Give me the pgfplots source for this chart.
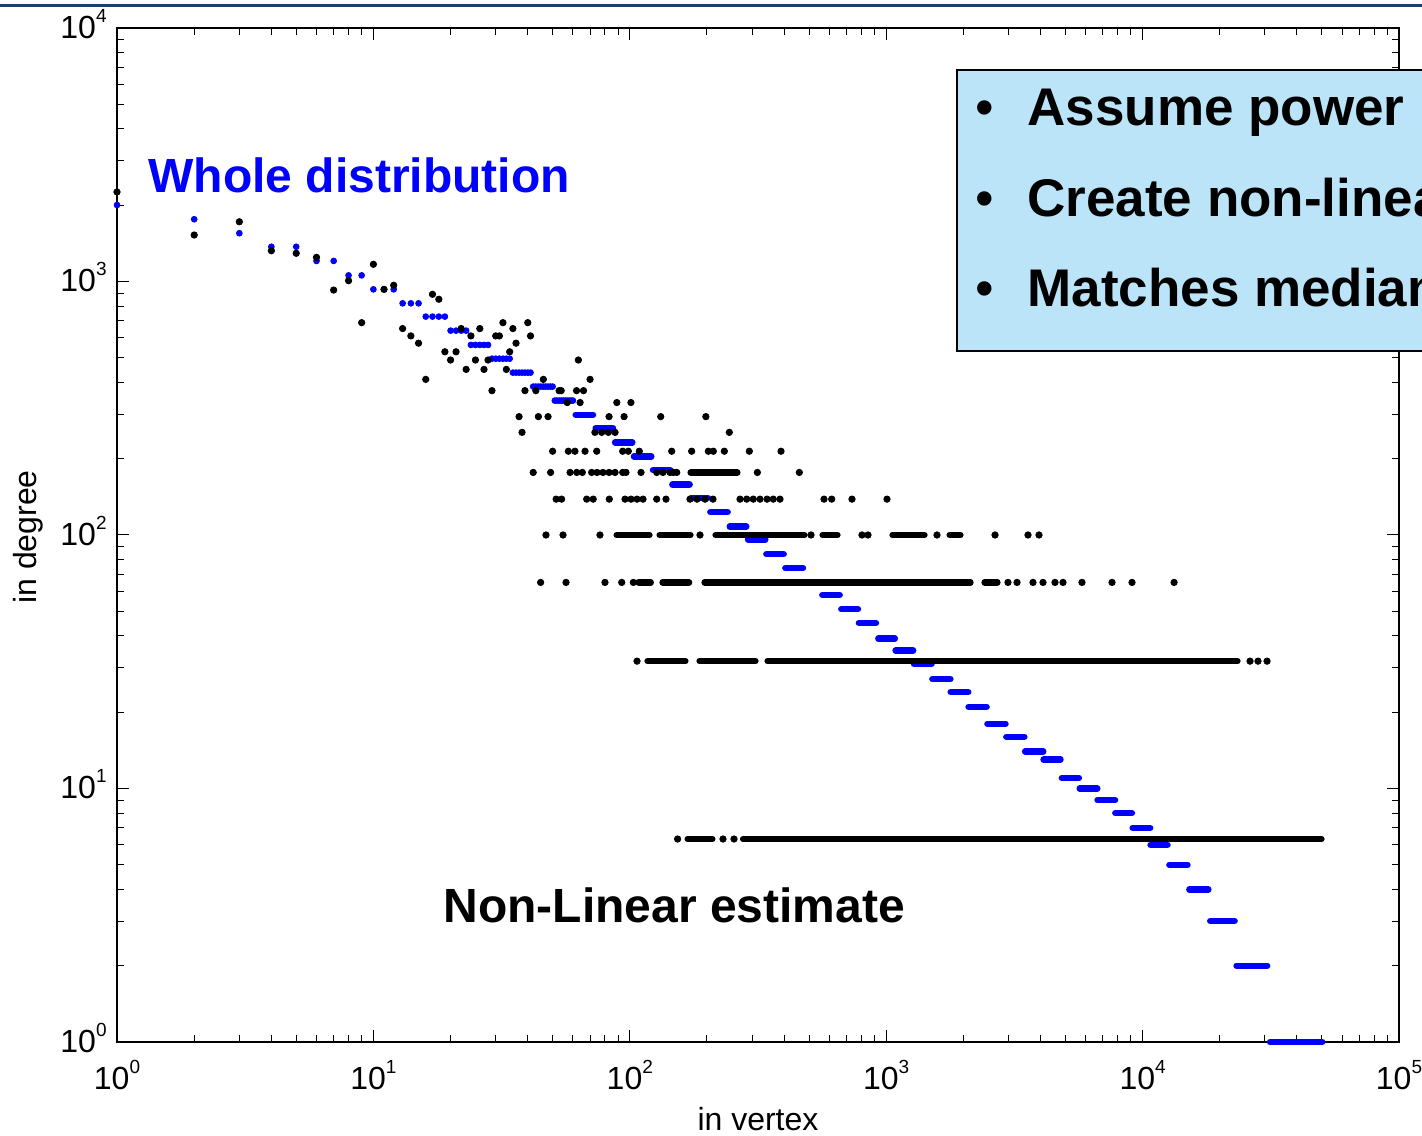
\documentclass[border=0pt]{standalone}
\usepackage{fontspec}
\setmainfont{Liberation Sans}
\usepackage{pgfplots}
\pgfplotsset{compat=1.18}
\definecolor{boxblue}{RGB}{187,228,248}
\definecolor{rulenavy}{RGB}{24,64,108}
% decade label: 10 with a raised exponent in the text font
\newcommand{\decade}[1]{10\raisebox{8pt}{\fontsize{9.5}{9.5}\selectfont #1}}

\begin{document}
\begin{tikzpicture}
\useasboundingbox (-58.5pt,-46.5pt) rectangle (652.5pt,521pt);
\clip (-58.5pt,-46.5pt) rectangle (652.5pt,521pt);
\begin{axis}[
  at={(0pt,0pt)}, anchor=south west,
  width=641pt, height=507pt, scale only axis,
  xmode=log, ymode=log,
  xmin=1, xmax=100000, ymin=1, ymax=10000,
  clip=false,
  unbounded coords=jump,
  axis line style={line width=0.9pt},
  tick align=inside,
  major tick length=5.8pt, minor tick length=3.3pt,
  tick style={black, line width=0.5pt},
  xtick={1,10,100,1000,10000,100000},
  xticklabels={\decade{0},\decade{1},\decade{2},\decade{3},\decade{4},\decade{5}},
  ytick={1,10,100,1000,10000},
  yticklabels={\decade{0},\decade{1},\decade{2},\decade{3},\decade{4}},
  tick label style={font=\fontsize{16}{16}\selectfont, inner sep=0pt},
  xticklabel style={anchor=north, yshift=-9pt},
  yticklabel style={anchor=east, xshift=-5pt, yshift=2pt},
]

% non-linear estimate: single points at small in-vertex values
\addplot[only marks, mark=*, mark size=1.45pt, blue] coordinates {
(1,2003)(2,1760)(3,1550)(4,1371)(5,1371)(6,1205)(7,1205)(8,1057)(9,1057)
(10,931)(11,931)(12,931)(13,820)(14,820)(15,820)
(16,727)(17,727)(18,727)(19,727)(20,640)(21,640)(22,640)(23,640)
(24,562)(25,562)(26,562)(27,562)(28,562)
(29,496)(30,496)(31,496)(32,496)(33,496)(34,496)
(35,437)(36,437)(37,437)(38,437)(39,437)(40,437)(41,437)
(42,385)(43,385)(44,385)(45,385)(46,385)(47,385)(48,385)(49,385)(50,385)
(51,339)(52,339)(53,339)(54,339)(55,339)(56,339)(57,339)(58,339)(59,339)(60,339)
};

% non-linear estimate: constant runs at larger in-vertex values
\addplot[blue, line width=3.2pt, line cap=round] coordinates {
(61.5,298)(71.9,298) (nan,nan)
(73.6,264)(86.0,264) (nan,nan)
(87.6,232)(102.3,232) (nan,nan)
(103.8,204)(121.3,204) (nan,nan)
(123.1,180)(143.9,180) (nan,nan)
(146.5,158)(171.2,158) (nan,nan)
(173.7,140)(201.8,140) (nan,nan)
(206.1,123)(240.9,123) (nan,nan)
(245.3,108)(284.7,108) (nan,nan)
(289.1,96)(337.7,96) (nan,nan)
(340.7,84)(398.4,84) (nan,nan)
(404.2,74)(473.7,74) (nan,nan)
(478,65)(556.8,65) (nan,nan)
(563.4,58)(658.6,58) (nan,nan)
(668.1,51)(776.2,51) (nan,nan)
(782.5,45)(912.6,45) (nan,nan)
(931.7,39)(1081,39) (nan,nan)
(1088,35)(1274,35) (nan,nan)
(1283,31)(1503,31) (nan,nan)
(1513,27)(1780,27) (nan,nan)
(1784,24)(2090,24) (nan,nan)
(2094,21)(2464,21) (nan,nan)
(2481,18)(2920,18) (nan,nan)
(2941,16)(3459,16) (nan,nan)
(3481,14)(4097,14) (nan,nan)
(4108,13)(4785,13) (nan,nan)
(4841,11)(5644,11) (nan,nan)
(5684,10)(6658,10) (nan,nan)
(6671,9)(7813,9) (nan,nan)
(7826,8)(9085,8) (nan,nan)
(9141,7)(10706,7) (nan,nan)
(10736,6)(12509,6) (nan,nan)
(12713,5)(14969,5) (nan,nan)
(15213,4)(18055,4) (nan,nan)
(18351,3)(22850,3) (nan,nan)
(23240,2)(30620,2) (nan,nan)
(31400,1)(50180,1)
};

% whole distribution: dense runs of vertices sharing one in-degree
\addplot[black, line width=3.1pt, line cap=round] coordinates {
(172.5,176.5)(263,176.5) (nan,nan)
(88.8,100)(119.4,100) (nan,nan)
(130.6,100)(172.5,100) (nan,nan)
(215.9,100)(480.2,100) (nan,nan)
(564.4,100)(645.8,100) (nan,nan)
(1058,100)(1411,100) (nan,nan)
(1766,100)(1949,100) (nan,nan)
(108.1,65)(120.8,65) (nan,nan)
(134.1,65)(170.5,65) (nan,nan)
(195.6,65)(2133,65) (nan,nan)
(2417,65)(2717,65) (nan,nan)
(117.2,31.8)(164.9,31.8) (nan,nan)
(187,31.8)(309.3,31.8) (nan,nan)
(344.4,31.8)(23450,31.8) (nan,nan)
(168,6.32)(210,6.32) (nan,nan)
(276.4,6.32)(49870,6.32)
};

% whole distribution: individual vertices
\addplot[only marks, mark=*, mark size=1.6pt, black] coordinates {
(1,2255)(2,1525)(3,1720)(4,1322)(5,1292)(6,1245)(7,925)(8,1007)(9,688)
(10,1169)(11,931)(12,966)(13,652)(14,610)(15,571)(16,411)(17,890)(18,851)
(19,528)(20,490)(21,528)(22,652)(23,450)(24,610)(25,490)(26,652)(27,450)
(28,490)(29,371)(30,610)(31,610)(32,688)(33,450)(34,528)(35,652)(36,571)
(37,293)(38,254)(39,371)(40,688)(41,610)(43,371)(44,293)(46,411)(48,293)
(53,371)(54,371)(57,333)(62,371)(63,490)(64,333)(66,371)(70,411)(83,293)
(89,333)(95,293)(101,333)(132,293)(198,293)
(73.1,254)(77.7,254)(82.5,254)(87.6,254)(244.4,254)
(50,214)(57.6,214)(61.1,214)(66.9,214)(74.3,214)(93.8,214)(98.7,214)
(108.9,214)(145.7,214)(174.3,214)(202.4,214)(211.7,214)(233.7,214)
(292.5,214)(388.8,214)
(42,176.5)(49.1,176.5)(58.5,176.5)(62.1,176.5)(65.3,176.5)(71,176.5)
(74.5,176.5)(78.6,176.5)(83,176.5)(87.6,176.5)(93.8,176.5)(96.6,176.5)
(110.6,176.5)(127.3,176.5)(134.7,176.5)(143.5,176.5)(147.8,176.5)
(152.4,176.5)(314.4,176.5)(458.3,176.5)
(51.6,138.5)(54.2,138.5)(67.9,138.5)(72,138.5)(83.2,138.5)(95.8,138.5)
(101.1,138.5)(106.7,138.5)(112.6,138.5)(127.3,138.5)(138.4,138.5)
(171.7,138.5)(182.9,138.5)(196.5,138.5)(211.1,138.5)(269.1,138.5)
(285.7,138.5)(303.1,138.5)(322,138.5)(342.9,138.5)(362.7,138.5)
(385.3,138.5)(572,138.5)(613,138.5)(735.5,138.5)(1007,138.5)
(47.1,100)(54.9,100)(76.5,100)(187.8,100)(508.9,100)(804.5,100)
(849.1,100)(1578,100)(2657,100)(3573,100)(3944,100)
(44.9,65)(56.4,65)(80,65)(93,65)(103.2,65)(2985,65)(3237,65)(3737,65)
(4088,65)(4553,65)(4892,65)(5802,65)(7599,65)(9093,65)(13265,65)
(106.7,31.8)(26240,31.8)(28190,31.8)(30570,31.8)
(153.6,6.32)(230.9,6.32)(254.9,6.32)
};
\end{axis}

% axis titles
\node[rotate=90, anchor=base, inner sep=0pt, font=\fontsize{16}{16}\selectfont]
  at (-40.5pt,252.5pt) {in degree};
\node[anchor=base, inner sep=0pt, font=\fontsize{16}{16}\selectfont]
  at (320.5pt,-44pt) {in vertex};

% annotations
\node[anchor=base west, inner sep=0pt, text=blue, font=\fontsize{24}{24}\selectfont\bfseries]
  at (15.5pt,424.5pt) {Whole distribution};
\node[anchor=base west, inner sep=0pt, font=\fontsize{24}{24}\selectfont\bfseries]
  at (163pt,60pt) {Non-Linear estimate};

% bullet box, running off the right edge of the slide
\draw[line width=1pt, fill=boxblue] (420pt,345.5pt) rectangle (700pt,486pt);
\node[anchor=base, inner sep=0pt, font=\fontsize{26.5}{26.5}\selectfont] at (434pt,458pt) {\textbullet};
\node[anchor=base west, inner sep=0pt, font=\fontsize{26.5}{26.5}\selectfont\bfseries] at (455pt,458pt) {Assume power};
\node[anchor=base, inner sep=0pt, font=\fontsize{26.5}{26.5}\selectfont] at (434pt,412.5pt) {\textbullet};
\node[anchor=base west, inner sep=0pt, font=\fontsize{26.5}{26.5}\selectfont\bfseries] at (455pt,412.5pt) {Create non-linear};
\node[anchor=base, inner sep=0pt, font=\fontsize{26.5}{26.5}\selectfont] at (434pt,367.5pt) {\textbullet};
\node[anchor=base west, inner sep=0pt, font=\fontsize{26.5}{26.5}\selectfont\bfseries] at (455pt,367.5pt) {Matches median};

% header rule
\fill[rulenavy] (-60pt,517.5pt) rectangle (660pt,519pt);
\end{tikzpicture}
\end{document}
